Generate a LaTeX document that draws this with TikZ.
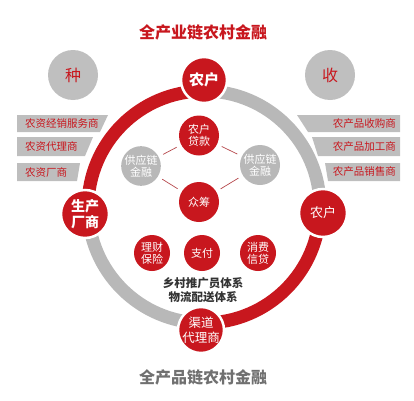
\documentclass[tikz,border=0pt]{standalone}
\usepackage{fontspec}
\setmainfont{Noto Sans CJK SC}
\definecolor{cred}{HTML}{C8171E}
\definecolor{cgray}{HTML}{B8B8B8}
\definecolor{cband}{HTML}{BEBEBE}
\definecolor{ctext}{HTML}{333333}
\definecolor{btitle}{HTML}{707070}
\definecolor{clink}{HTML}{B5474B}
\tikzset{
  bignode/.style={circle, fill=cred, draw=white, line width=2.5pt, text=white, inner sep=0pt, align=center, minimum size=#1},
  smallnode/.style={circle, fill=cred, text=white, inner sep=0pt, align=center, minimum size=#1, font=\fontsize{11}{12}\selectfont},
  graynode/.style={circle, fill=cgray, text=white, inner sep=0pt, align=center, minimum size=#1, font=\fontsize{11}{12}\selectfont},
  sidenode/.style={circle, fill=cgray!90, text=cred, inner sep=0pt, minimum size=50pt, font=\fontsize{16}{16}\selectfont},
  band/.style={fill=cband, draw=none},
  bandtext/.style={text=cred, font=\fontsize{10.5}{11}\selectfont, inner sep=0pt},
  link/.style={draw=clink, line width=0.7pt, shorten >=5pt, shorten <=5pt},
  ring/.style={line width=13pt}
}
\begin{document}
\begin{tikzpicture}[x=1pt,y=1pt]
\useasboundingbox (0,0) rectangle (414,400);
% titles
\node[text=cred, font=\fontsize{16}{16}\selectfont\bfseries] (title) at (203,368) {全产业链农村金融};
\node[text=btitle, font=\fontsize{16}{16}\selectfont\bfseries] (btitle) at (203,23) {全产品链农村金融};
% side circles
\node[sidenode] (zhong) at (73,325) {种};
\node[sidenode] (shou) at (330,325) {收};
% left bands
\fill[band] (17,285) -- (108,285) -- (100,268) -- (17,268) -- cycle;
\fill[band] (17,263) -- (93,263) -- (85,244) -- (17,244) -- cycle;
\fill[band] (17,237) -- (80,237) -- (77,219) -- (17,219) -- cycle;
\node[bandtext, anchor=west] (l1) at (25,276.5) {农资经销服务商};
\node[bandtext, anchor=west] (l2) at (25,253.5) {农资代理商};
\node[bandtext, anchor=west] (l3) at (25,228) {农资厂商};
% right bands
\fill[band] (297,285) -- (400,285) -- (400,268) -- (308,268) -- cycle;
\fill[band] (312,263) -- (400,263) -- (400,244) -- (318,244) -- cycle;
\fill[band] (325,237) -- (400,237) -- (400,219) -- (328,219) -- cycle;
\node[bandtext, anchor=east] (r1) at (396,276.5) {农产品收购商};
\node[bandtext, anchor=east] (r2) at (396,253.5) {农产品加工商};
\node[bandtext, anchor=east] (r3) at (396,228) {农产品销售商};
% ring
\coordinate (c) at (204,193);
\draw[ring, cred] (c) ++(90:116) arc[start angle=90, end angle=180, radius=116];
\draw[ring, cgray] (c) ++(180:116) arc[start angle=180, end angle=270, radius=116];
\draw[ring, cred] (c) ++(270:116) arc[start angle=270, end angle=360, radius=116];
\draw[ring, cgray] (c) ++(0:116) arc[start angle=0, end angle=90, radius=116];
% ring nodes
\node[bignode=46pt, font=\fontsize{15}{15}\selectfont\bfseries] (farmtop) at (204,320) {农户};
\node[bignode=48pt, font=\fontsize{14}{16}\selectfont\bfseries] (maker) at (85,186) {生产\\厂商};
\node[bignode=48pt, font=\fontsize{13}{14}\selectfont] (farmright) at (323,187) {农户};
\node[bignode=46pt, font=\fontsize{12.5}{15}\selectfont] (channel) at (201,70) {渠道\\代理商};
% inner nodes
\node[smallnode=40pt] (loan) at (199,264.5) {农户\\贷款};
\node[graynode=38pt] (scfl) at (141,234) {供应链\\金融};
\node[graynode=40pt] (scfr) at (260,235) {供应链\\金融};
\node[smallnode=40pt] (crowd) at (199,198) {众筹};
\draw[link] (loan) -- (scfl);
\draw[link] (loan) -- (scfr);
\draw[link] (crowd) -- (scfl);
\draw[link] (crowd) -- (scfr);
\node[smallnode=36pt] (ins) at (152,147) {理财\\保险};
\node[smallnode=36pt] (pay) at (202,147) {支付};
\node[smallnode=36pt] (credit) at (258,147) {消费\\信贷};
\node[text=ctext, font=\fontsize{11.5}{12}\selectfont\bfseries] (sys1) at (203,117) {乡村推广员体系};
\node[text=ctext, font=\fontsize{11.5}{12}\selectfont\bfseries] (sys2) at (203,103) {物流配送体系};
\end{tikzpicture}
\end{document}
